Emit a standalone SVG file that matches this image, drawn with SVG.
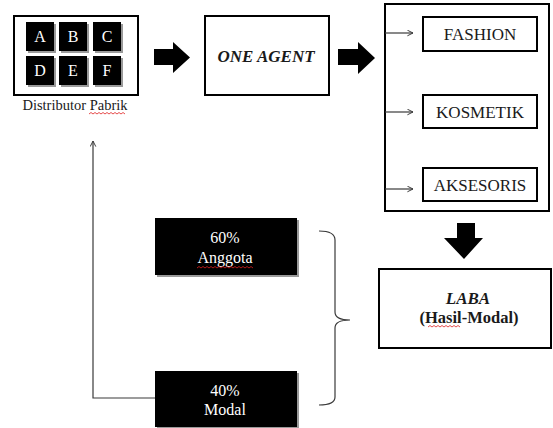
<svg xmlns="http://www.w3.org/2000/svg" width="553" height="428" viewBox="0 0 553 428">
  <style>
    .box { fill: #fff; stroke: #000; stroke-width: 2; }
    .tile { fill: #000; }
    .shade { fill: #9a9a9a; }
    text { font-family: 'Liberation Serif', 'DejaVu Serif', serif; text-anchor: middle; }
    .lbl { fill: #1a1a1a; }
    .inv { fill: #fff; }
    .big { fill: #000; }
    .thin { fill: none; stroke: #3a3a3a; stroke-width: 1.2; }
    .squiggle { fill: none; stroke: #e02020; stroke-width: 0.8; }
  </style>
  <defs>
    <marker id="open" viewBox="0 0 10 10" refX="9" refY="5" markerWidth="7" markerHeight="7" orient="auto" markerUnits="userSpaceOnUse">
      <path d="M1,1 L9,5 L1,9" fill="none" stroke="#3a3a3a" stroke-width="1.4"/>
    </marker>
  </defs>

  <rect width="553" height="428" fill="#fff"/>

  <!-- distributor block with six outlets -->
  <g id="distributor">
    <rect class="box" x="14" y="16" width="124" height="79"/>
    <rect class="shade" x="28" y="24" width="28" height="29"/>
    <rect class="shade" x="61" y="24" width="28" height="29"/>
    <rect class="shade" x="95" y="24" width="28" height="29"/>
    <rect class="shade" x="28" y="58" width="28" height="29"/>
    <rect class="shade" x="61" y="58" width="28" height="29"/>
    <rect class="shade" x="95" y="58" width="28" height="29"/>
    <rect class="tile" x="26" y="22" width="28" height="29"/>
    <rect class="tile" x="59" y="22" width="28" height="29"/>
    <rect class="tile" x="93" y="22" width="28" height="29"/>
    <rect class="tile" x="26" y="56" width="28" height="29"/>
    <rect class="tile" x="59" y="56" width="28" height="29"/>
    <rect class="tile" x="93" y="56" width="28" height="29"/>
    <text class="inv" x="40" y="42" font-size="16">A</text>
    <text class="inv" x="73" y="42" font-size="16">B</text>
    <text class="inv" x="107" y="42" font-size="16">C</text>
    <text class="inv" x="40" y="76" font-size="16">D</text>
    <text class="inv" x="73" y="76" font-size="16">E</text>
    <text class="inv" x="107" y="76" font-size="16">F</text>
    <text class="lbl" x="75" y="110" font-size="14.5">Distributor Pabrik</text>
    <path class="squiggle" d="M89,114 l2,-1.5 l2,1.5 l2,-1.5 l2,1.5 l2,-1.5 l2,1.5 l2,-1.5 l2,1.5 l2,-1.5 l2,1.5 l2,-1.5 l2,1.5 l2,-1.5 l2,1.5 l2,-1.5 l2,1.5 l2,-1.5 l2,1.5"/>
  </g>

  <!-- agent -->
  <g id="agent">
    <rect class="box" x="205" y="16" width="124" height="79"/>
    <text class="lbl" x="266" y="62" font-size="17" font-weight="bold" font-style="italic">ONE AGENT</text>
  </g>

  <!-- product lines -->
  <g id="products">
    <rect class="box" x="385" y="4" width="164" height="207"/>
  </g>
  <g id="fashion">
    <rect class="box" x="423" y="17" width="114" height="34"/>
    <text class="lbl" x="480" y="40" font-size="17">FASHION</text>
  </g>
  <g id="kosmetik">
    <rect class="box" x="423" y="95" width="114" height="33"/>
    <text class="lbl" x="480" y="118" font-size="17">KOSMETIK</text>
  </g>
  <g id="aksesoris">
    <rect class="box" x="423" y="168" width="114" height="33"/>
    <text class="lbl" x="480" y="191" font-size="17">AKSESORIS</text>
  </g>

  <!-- profit -->
  <g id="laba">
    <rect class="box" x="379" y="269" width="172" height="79"/>
    <text class="lbl" x="468" y="304" font-size="17" font-weight="bold" font-style="italic">LABA</text>
    <text class="lbl" x="469" y="323" font-size="16.5" font-weight="bold">(Hasil-Modal)</text>
    <path class="squiggle" d="M428,327 l2,-1.5 l2,1.5 l2,-1.5 l2,1.5 l2,-1.5 l2,1.5 l2,-1.5 l2,1.5 l2,-1.5 l2,1.5 l2,-1.5 l2,1.5 l2,-1.5 l2,1.5 l2,-1.5 l2,1.5"/>
  </g>

  <!-- shares -->
  <g id="anggota">
    <rect class="shade" x="157" y="220" width="142" height="57"/>
    <rect class="tile" x="155" y="218" width="142" height="57"/>
    <text class="inv" x="225" y="243" font-size="16">60%</text>
    <text class="inv" x="225" y="263" font-size="16">Anggota</text>
    <path class="squiggle" d="M197,268 l2,-1.5 l2,1.5 l2,-1.5 l2,1.5 l2,-1.5 l2,1.5 l2,-1.5 l2,1.5 l2,-1.5 l2,1.5 l2,-1.5 l2,1.5 l2,-1.5 l2,1.5 l2,-1.5 l2,1.5 l2,-1.5 l2,1.5 l2,-1.5 l2,1.5 l2,-1.5 l2,1.5 l2,-1.5 l2,1.5 l2,-1.5 l2,1.5 l2,-1.5 l2,1.5"/>
  </g>
  <g id="modal">
    <rect class="shade" x="157" y="373" width="142" height="56"/>
    <rect class="tile" x="155" y="371" width="142" height="56"/>
    <text class="inv" x="225" y="396" font-size="16">40%</text>
    <text class="inv" x="225" y="415" font-size="16">Modal</text>
  </g>

  <g id="connectors">
    <!-- block arrows -->
    <path class="big" d="M154,49 H173 V42 L190,57.5 L173,73 V65 H154 Z"/>
    <path class="big" d="M338,49 H358 V42 L375,58 L358,74 V65 H338 Z"/>
    <path class="big" d="M457,223 H475 V238 H483 L464,259 L444,238 H457 Z"/>
    <!-- branch arrows -->
    <line class="thin" x1="385" y1="33" x2="413" y2="33" marker-end="url(#open)"/>
    <line class="thin" x1="385" y1="112" x2="413" y2="112" marker-end="url(#open)"/>
    <line class="thin" x1="385" y1="189" x2="413" y2="189" marker-end="url(#open)"/>
    <!-- brace grouping the shares -->
    <path class="thin" d="M319,231 Q335,231 335,240 V312 Q335,320 350,320 Q335,320 335,328 V397 Q335,405 319,405"/>
    <!-- return path to the distributor -->
    <polyline class="thin" points="155,398 93,398 93,141" marker-end="url(#open)"/>
  </g>
</svg>
